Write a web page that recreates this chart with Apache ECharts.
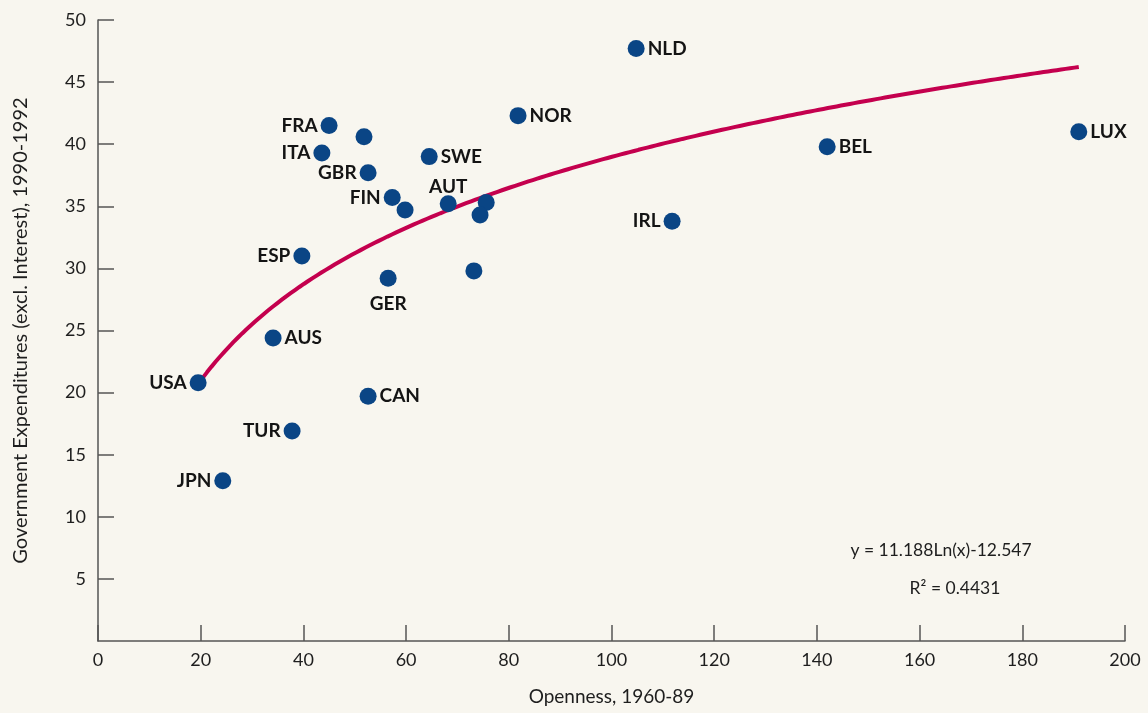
<!DOCTYPE html>
<html>
<head>
<meta charset="utf-8">
<style>
  html, body { margin: 0; padding: 0; background: #f8f6ef; }
  #chart { width: 1148px; height: 713px; }
</style>
<script src="https://cdn.jsdelivr.net/npm/echarts@6/dist/echarts.min.js"></script>
</head>
<body>
<div id="chart"></div>
<script>
// Country codes (empty string = unlabelled point)
const countries = ['USA', 'JPN', 'TUR', 'AUS', 'ESP', 'CAN', 'GER', 'ITA', 'FRA', '', 'GBR', 'FIN', '',
  'SWE', 'AUT', '', '', '', 'NOR', 'NLD', 'IRL', 'BEL', 'LUX'];
// Openness, 1960-89
const openness = [19.5, 24.3, 37.8, 34.1, 39.7, 52.6, 56.5, 43.6, 45.0, 51.8, 52.6, 57.3, 59.8,
  64.5, 68.2, 75.6, 74.4, 73.2, 81.8, 104.8, 111.8, 142.0, 191.0];
// Government expenditures (excl. interest), 1990-1992
const govExp = [20.8, 12.9, 16.9, 24.4, 31.0, 19.7, 29.2, 39.3, 41.5, 40.6, 37.7, 35.7, 34.7,
  39.0, 35.2, 35.3, 34.3, 29.8, 42.3, 47.7, 33.8, 39.8, 41.0];

// Logarithmic trend line coefficients as printed on the chart
const trendA = 11.188;
const trendB = -12.547;
const trendText = ['y = 11.188Ln(x)-12.547', 'R\u00b2 = 0.4431'];

const xTicks = { min: 0, max: 200, interval: 20 };
const yTicks = { min: 0, max: 50, interval: 5 };

// Which side each country label sits on
const labelSide = {
  USA: 'left', JPN: 'left', TUR: 'left', ESP: 'left', ITA: 'left', FRA: 'left', GBR: 'left',
  FIN: 'left', IRL: 'left', GER: 'bottom', AUT: 'top'
};
const labelGap = { GER: 8, AUT: -1 };

const points = countries.map((c, i) => ({
  value: [openness[i], govExp[i]],
  name: c,
  label: {
    show: c !== '',
    position: labelSide[c] || 'right',
    distance: labelGap[c] !== undefined ? labelGap[c] : 3
  }
}));

// Trend curve across the observed openness range
const xMin = Math.min(...openness), xMax = Math.max(...openness);
const trend = [];
const steps = 200;
for (let k = 0; k <= steps; k++) {
  const x = xMin + (xMax - xMin) * k / steps;
  trend.push([x, trendA * Math.log(x) + trendB]);
}

const FONT = 'Lato, "Noto Sans", sans-serif';
const INK = '#1e1e1e';
const chart = echarts.init(document.getElementById('chart'), null, { renderer: 'canvas' });
chart.setOption({
  backgroundColor: '#f8f6ef',
  animation: false,
  textStyle: { fontFamily: FONT },
  grid: { left: 98, right: 23, top: 20, bottom: 72, containLabel: false },
  xAxis: {
    type: 'value', min: xTicks.min, max: xTicks.max, interval: xTicks.interval,
    name: 'Openness, 1960-89', nameLocation: 'middle', nameGap: 46,
    nameTextStyle: { fontFamily: FONT, fontSize: 19, color: INK },
    axisLine: { show: true, lineStyle: { color: '#555', width: 1.5 } },
    axisTick: { show: true, inside: true, length: 16, lineStyle: { color: '#555', width: 1.5 } },
    axisLabel: { fontFamily: FONT, fontSize: 18, color: INK, margin: 10 },
    splitLine: { show: false }
  },
  yAxis: {
    type: 'value', min: yTicks.min, max: yTicks.max, interval: yTicks.interval,
    name: 'Government Expenditures (excl. Interest), 1990-1992', nameLocation: 'middle', nameGap: 67,
    nameTextStyle: { fontFamily: FONT, fontSize: 20, color: INK },
    axisLine: { show: true, lineStyle: { color: '#555', width: 1.5 } },
    axisTick: { show: true, inside: true, length: 16, lineStyle: { color: '#555', width: 1.5 } },
    axisLabel: { fontFamily: FONT, fontSize: 18, color: INK, margin: 12, showMinLabel: false },
    splitLine: { show: false }
  },
  series: [
    {
      type: 'line', data: trend, showSymbol: false, smooth: false, z: 1,
      lineStyle: { color: '#c4004e', width: 4 }
    },
    {
      type: 'scatter', data: points, symbolSize: 17, z: 2,
      itemStyle: { color: '#0a4585', opacity: 1 },
      label: {
        formatter: p => p.name, fontFamily: FONT, fontWeight: 'bold', fontSize: 19,
        color: '#141414'
      }
    }
  ],
  graphic: [
    {
      type: 'text', x: 941, y: 550,
      style: { text: trendText[0], fontFamily: FONT, fontSize: 17.5, fill: INK, align: 'center', verticalAlign: 'middle' }
    },
    {
      type: 'text', x: 955, y: 588,
      style: { text: trendText[1], fontFamily: FONT, fontSize: 17.5, fill: INK, align: 'center', verticalAlign: 'middle' }
    }
  ]
});
</script>
</body>
</html>
